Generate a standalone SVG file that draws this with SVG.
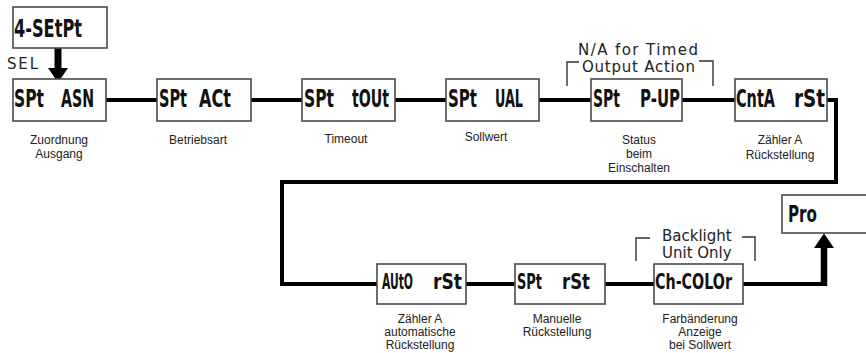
<svg xmlns="http://www.w3.org/2000/svg" width="866" height="353" viewBox="0 0 866 353">
<style>
.box{fill:#fff;stroke:#4a4a4a;stroke-width:1.6}
.lcd{font-family:"DejaVu Sans Condensed","DejaVu Sans",sans-serif;font-weight:bold;fill:#111}
.lbl{font-family:"Liberation Sans",Arial,sans-serif;font-size:12px;fill:#222;text-anchor:middle}
.note{font-family:"DejaVu Sans",sans-serif;font-size:15px;fill:#222}
.wire{fill:none;stroke:#000;stroke-width:4}
.brk{fill:none;stroke:#333;stroke-width:1.4}
</style>
<defs>
<marker id="head" markerUnits="userSpaceOnUse" markerWidth="20" markerHeight="20" refX="0" refY="9" orient="auto" viewBox="0 0 13 18">
<path d="M0,0 L13,9 L0,18 Z" fill="#000"/>
</marker>
</defs>

<g id="connectors">
<path class="wire" d="M106 100 H157 M251 100 H302 M395 100 H446 M539 100 H591 M682 100 H735"/>
<path class="wire" d="M827 100 H836 V182 H282 V284 H377"/>
<path class="wire" d="M466 284 H515 M605 284 H654 M743 284 H826"/>
<line x1="824" y1="286" x2="824" y2="248" stroke="#000" stroke-width="6.5" marker-end="url(#head)"/>
<line x1="58" y1="48" x2="58" y2="68" stroke="#000" stroke-width="7" marker-end="url(#head)"/>
</g>

<g id="sel-label"><text class="note" x="7" y="69" font-size="16" textLength="31">SEL</text></g>

<g id="n-setpt">
<rect class="box" x="13" y="7" width="94" height="41"/>
<text class="lcd" x="14" y="37" font-size="24" textLength="68" lengthAdjust="spacingAndGlyphs">4-SEtPt</text>
</g>

<g id="n-spt-asn">
<rect class="box" x="13" y="79" width="93" height="42"/>
<text class="lcd" y="107" font-size="24"><tspan x="14" textLength="30" lengthAdjust="spacingAndGlyphs">SPt</tspan> <tspan x="61" textLength="33" lengthAdjust="spacingAndGlyphs">ASN</tspan></text>
<text class="lbl" x="59" y="144">Zuordnung</text>
<text class="lbl" x="59" y="158">Ausgang</text>
</g>

<g id="n-spt-act">
<rect class="box" x="157" y="79" width="94" height="42"/>
<text class="lcd" y="107" font-size="24"><tspan x="159" textLength="28" lengthAdjust="spacingAndGlyphs">SPt</tspan> <tspan x="199" textLength="32" lengthAdjust="spacingAndGlyphs">ACt</tspan></text>
<text class="lbl" x="198" y="144">Betriebsart</text>
</g>

<g id="n-spt-tout">
<rect class="box" x="302" y="79" width="93" height="42"/>
<text class="lcd" y="107" font-size="24"><tspan x="304" textLength="30" lengthAdjust="spacingAndGlyphs">SPt</tspan> <tspan x="352" textLength="37" lengthAdjust="spacingAndGlyphs">tOUt</tspan></text>
<text class="lbl" x="346" y="143">Timeout</text>
</g>

<g id="n-spt-val">
<rect class="box" x="446" y="79" width="93" height="42"/>
<text class="lcd" y="107" font-size="24"><tspan x="448" textLength="29" lengthAdjust="spacingAndGlyphs">SPt</tspan> <tspan x="495" textLength="28" lengthAdjust="spacingAndGlyphs">UAL</tspan></text>
<text class="lbl" x="486" y="141">Sollwert</text>
</g>

<g id="n-spt-pup">
<rect class="box" x="591" y="79" width="91" height="42"/>
<text class="lcd" y="107" font-size="24"><tspan x="593" textLength="27" lengthAdjust="spacingAndGlyphs">SPt</tspan> <tspan x="640" textLength="40" lengthAdjust="spacingAndGlyphs">P-UP</tspan></text>
<text class="lbl" x="639" y="144">Status</text>
<text class="lbl" x="639" y="158">beim</text>
<text class="lbl" x="639" y="172">Einschalten</text>
<path class="brk" d="M567 86 V62 H579 M699 61 H713 V86"/>
<text class="note" x="578" y="55" textLength="120">N/A for Timed</text>
<text class="note" x="582" y="72" textLength="113">Output Action</text>
</g>

<g id="n-cnta-rst">
<rect class="box" x="735" y="79" width="92" height="42"/>
<text class="lcd" y="107" font-size="24"><tspan x="736" textLength="39" lengthAdjust="spacingAndGlyphs">CntA</tspan> <tspan x="794" textLength="31" lengthAdjust="spacingAndGlyphs">rSt</tspan></text>
<text class="lbl" x="780" y="144">Zähler A</text>
<text class="lbl" x="780" y="159">Rückstellung</text>
</g>

<g id="n-auto-rst">
<rect class="box" x="377" y="264" width="89" height="40"/>
<text class="lcd" x="382" y="289" font-size="18" textLength="31" lengthAdjust="spacingAndGlyphs" transform="translate(382 289) scale(1 1.17) translate(-382 -289)">AUtO</text>
<text class="lcd" x="433" y="289" font-size="21" textLength="29" lengthAdjust="spacingAndGlyphs">rSt</text>
<text class="lbl" x="420" y="323">Zähler A</text>
<text class="lbl" x="420" y="336">automatische</text>
<text class="lbl" x="420" y="349">Rückstellung</text>
</g>

<g id="n-spt-rst">
<rect class="box" x="515" y="264" width="90" height="40"/>
<text class="lcd" y="289" font-size="21"><tspan x="517" textLength="25" lengthAdjust="spacingAndGlyphs">SPt</tspan> <tspan x="562" textLength="28" lengthAdjust="spacingAndGlyphs">rSt</tspan></text>
<text class="lbl" x="557" y="323">Manuelle</text>
<text class="lbl" x="557" y="336">Rückstellung</text>
</g>

<g id="n-ch-color">
<rect class="box" x="654" y="264" width="89" height="40"/>
<text class="lcd" x="655" y="289" font-size="21" textLength="77" lengthAdjust="spacingAndGlyphs">Ch-COLOr</text>
<text class="lbl" x="700" y="323">Farbänderung</text>
<text class="lbl" x="700" y="336">Anzeige</text>
<text class="lbl" x="700" y="349">bei Sollwert</text>
<path class="brk" d="M636 261 V238 H650 M742 237 H755 V261"/>
<text class="note" x="662" y="241">Backlight</text>
<text class="note" x="662" y="258">Unit Only</text>
</g>

<g id="n-pro">
<rect class="box" x="782" y="195" width="87" height="38"/>
<text class="lcd" x="788" y="222" font-size="23" textLength="29" lengthAdjust="spacingAndGlyphs">Pro</text>
</g>
</svg>
